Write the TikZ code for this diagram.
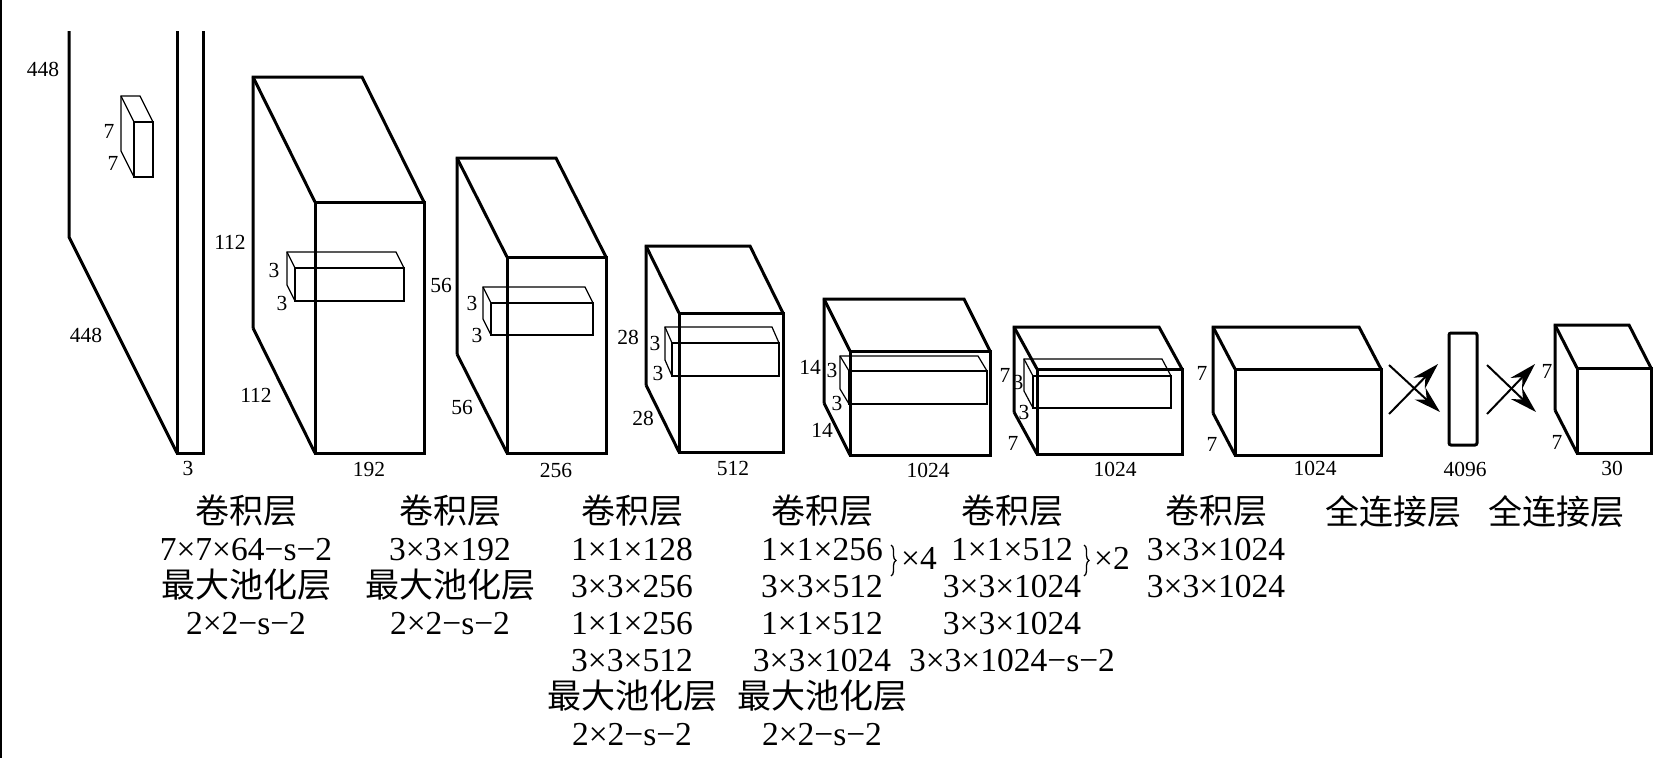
\documentclass[tikz,border=0pt]{standalone}
\usepackage{fontspec}
\setmainfont{Liberation Serif}
\newfontfamily\cjk{Noto Sans CJK SC}
\newcommand\zh[1]{{\cjk\fontsize{34}{37}\selectfont #1}}
\usetikzlibrary{arrows.meta,decorations.pathreplacing}
% optional style, front top-left x, y, width, height, depth dx, depth dy
\newcommand\cuboid[7][]{%
  \draw[#1] ({#2-#6},{#3+#5-#7}) -- ({#2-#6},{#3-#7}) -- ({#2+#4-#6},{#3-#7}) -- ({#2+#4},#3);
  \draw[#1] ({#2-#6},{#3-#7}) -- (#2,#3);
  \draw[#1] ({#2-#6},{#3+#5-#7}) -- (#2,{#3+#5});
  \draw[#1] (#2,#3) rectangle ({#2+#4},{#3+#5});
}
\begin{document}
\begin{tikzpicture}[x=1pt,y=-1pt,
  heavy/.style={line width=3pt},
  thin/.style={line width=1.2pt},
  dim/.style={font=\fontsize{21.5}{21.5}\selectfont, inner sep=0pt},
  lbl/.style={font=\fontsize{33.5}{37}\selectfont, align=center, anchor=north, inner sep=0pt},
  rep/.style={font=\fontsize{33.5}{33.5}\selectfont, inner sep=0pt},
  fcarrow/.style={line width=2pt, -{Stealth[length=27pt,width=16pt,inset=9pt]}},
  bracestyle/.style={line width=1.3pt, decorate, decoration={brace,amplitude=5pt}}]
\useasboundingbox (0,0) rectangle (1679,758);
\fill[white] (0,0) rectangle (1679,758);
\draw[line width=1.5pt] (0.75,0) -- (0.75,758);

% input slab
\draw[heavy] (69,31) -- (69,237) -- (177,453);
\draw[heavy] (177,31) -- (177,453) -- (203,453) -- (203,31);
\cuboid[thin]{134}{122}{19}{55}{13}{26}

% feature map cuboids with their kernels
\cuboid[heavy]{315}{202}{109}{251}{62}{125}
\cuboid[thin]{295}{268}{109}{33}{8}{16}
\cuboid[heavy]{507}{257}{99}{196}{50}{99}
\cuboid[thin]{491}{303}{102}{32}{8}{16}
\cuboid[heavy]{679}{313}{104}{139}{33}{67}
\cuboid[thin]{672}{343}{107}{33}{7}{16}
\cuboid[heavy]{850}{351}{140}{104}{26}{52}
\cuboid[thin]{849}{371}{138}{33}{9}{15}
\cuboid[heavy]{1037}{369}{145}{85}{23}{42}
\cuboid[thin]{1033}{376}{138}{32}{9}{17}
\cuboid[heavy]{1235}{369}{146}{86}{22}{42}
\draw[heavy, rounded corners=2pt] (1449,333) rectangle (1477,445);
\cuboid[heavy]{1577}{368}{74}{85}{22}{43}

% fully connected arrows
\coordinate (a1s) at (1389,365); \coordinate (a1e) at (1440,412);
\coordinate (a2s) at (1389,414); \coordinate (a2e) at (1438,364);
\coordinate (a3s) at (1487,365); \coordinate (a3e) at (1536,412);
\coordinate (a4s) at (1487,414); \coordinate (a4e) at (1535,364);
\draw[fcarrow] (a1s) -- (a1e);
\draw[fcarrow] (a2s) -- (a2e);
\draw[fcarrow] (a3s) -- (a3e);
\draw[fcarrow] (a4s) -- (a4e);

% dimension labels
\node[dim] (d1) at (43,69) {448};
\node[dim] (d2) at (86,335) {448};
\node[dim] (d3) at (109,131) {7};
\node[dim] (d4) at (113,163) {7};
\node[dim] (d5) at (188,468) {3};
\node[dim] (d6) at (230,242) {112};
\node[dim] (d7) at (256,395) {112};
\node[dim] (d8) at (274,270) {3};
\node[dim] (d9) at (282,303) {3};
\node[dim] (d10) at (369,469) {192};
\node[dim] (d11) at (441,285) {56};
\node[dim] (d12) at (462,407) {56};
\node[dim] (d13) at (472,303) {3};
\node[dim] (d14) at (477,335) {3};
\node[dim] (d15) at (556,470) {256};
\node[dim] (d16) at (628,337) {28};
\node[dim] (d17) at (643,418) {28};
\node[dim] (d18) at (655,343) {3};
\node[dim] (d19) at (658,373) {3};
\node[dim] (d20) at (733,468) {512};
\node[dim] (d21) at (810,367) {14};
\node[dim] (d22) at (822,430) {14};
\node[dim] (d23) at (832,370) {3};
\node[dim] (d24) at (837,403) {3};
\node[dim] (d25) at (928,470) {1024};
\node[dim] (d26) at (1005,375) {7};
\node[dim] (d27) at (1013,443) {7};
\node[dim] (d28) at (1018,382) {3};
\node[dim] (d29) at (1024,412) {3};
\node[dim] (d30) at (1115,469) {1024};
\node[dim] (d31) at (1202,373) {7};
\node[dim] (d32) at (1212,444) {7};
\node[dim] (d33) at (1315,468) {1024};
\node[dim] (d34) at (1465,469) {4096};
\node[dim] (d35) at (1547,371) {7};
\node[dim] (d36) at (1557,442) {7};
\node[dim] (d37) at (1612,468) {30};

% layer descriptions
\node[lbl] (c1) at (246,495) {\zh{卷积层}\\7×7×64−s−2\\\zh{最大池化层}\\2×2−s−2};
\node[lbl] (c2) at (450,495) {\zh{卷积层}\\3×3×192\\\zh{最大池化层}\\2×2−s−2};
\node[lbl] (c3) at (632,495) {\zh{卷积层}\\1×1×128\\3×3×256\\1×1×256\\3×3×512\\\zh{最大池化层}\\2×2−s−2};
\node[lbl] (c4) at (822,495) {\zh{卷积层}\\1×1×256\\3×3×512\\1×1×512\\3×3×1024\\\zh{最大池化层}\\2×2−s−2};
\node[lbl] (c5) at (1012,495) {\zh{卷积层}\\1×1×512\\3×3×1024\\3×3×1024\\3×3×1024−s−2};
\node[lbl] (c6) at (1216,495) {\zh{卷积层}\\3×3×1024\\3×3×1024};
\node[lbl] (c7) at (1393,495) {\zh{全连接层}};
\node[lbl] (c8) at (1556,495) {\zh{全连接层}};

% repetition braces
\coordinate (b1t) at (891,545); \coordinate (b1b) at (891,576);
\coordinate (b2t) at (1084,545); \coordinate (b2b) at (1084,576);
\draw[bracestyle] (b1t) -- (b1b);
\draw[bracestyle] (b2t) -- (b2b);
\node[rep] (r4) at (919,558) {×4};
\node[rep] (r2) at (1112,558) {×2};
\end{tikzpicture}
\end{document}
